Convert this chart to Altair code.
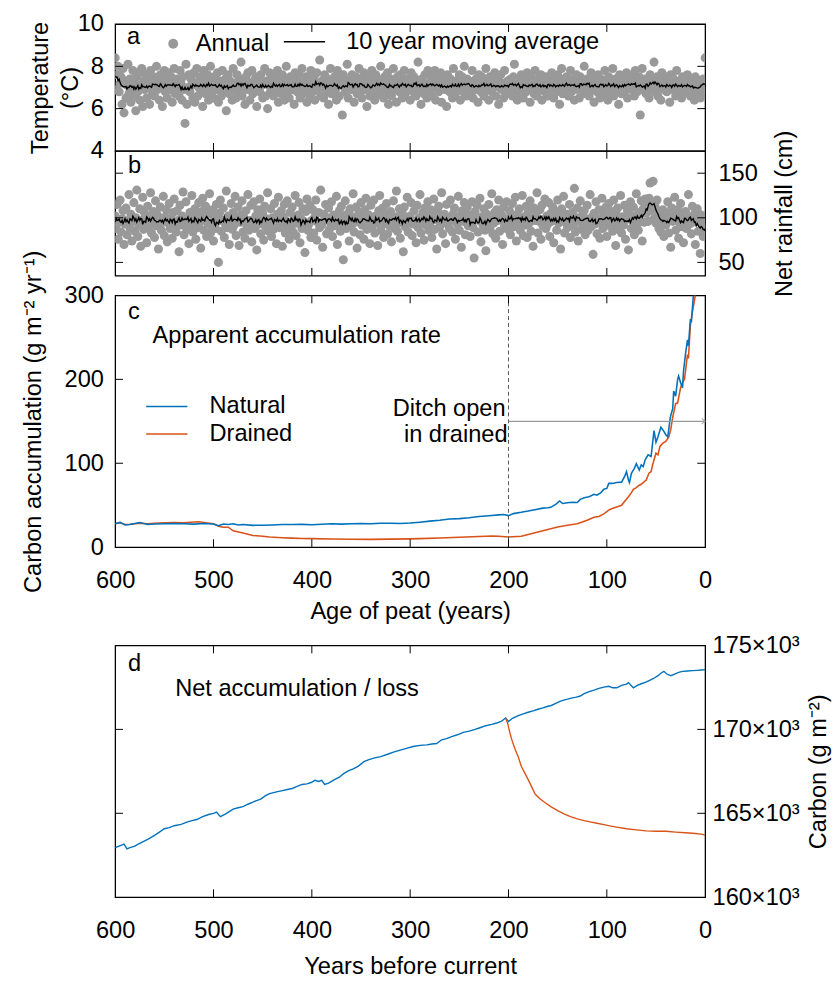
import altair as alt
import pandas as pd

FONT = "Liberation Sans"
FS = 24
GRAY = "#999999"
BLUE = "#0072BD"
ORANGE = "#D95319"
W = 600
H_A, H_B, GAP_BC, H_C, GAP_CD, H_D = 129, 127, 20, 256, 100, 256
TICK = 8

# ---------------- data ----------------
# annual temperature (deg C), age 600 -> 0
temperature = [
    8.4, 6.9, 7.6, 8.0, 6.8, 7.2, 7.5, 6.2, 7.9, 5.8, 7.3, 6.5, 7.1, 8.1, 6.7, 7.4, 6.3, 7.0, 7.8, 6.6,
    7.2, 5.9, 7.5, 6.8, 7.7, 6.4, 7.1, 7.9, 6.1, 7.3, 6.9, 7.6, 6.5, 7.0, 7.4, 6.2, 7.8, 7.1, 6.7, 7.5,
    6.6, 7.3, 8.0, 6.9, 7.2, 6.4, 7.6, 7.0, 6.1, 7.4, 7.8, 6.8, 7.1, 6.5, 7.7, 7.3, 6.9, 7.5, 6.3, 7.2,
    7.9, 6.7, 6.9, 7.4, 7.0, 6.6, 7.8, 7.2, 6.4, 7.5, 6.9, 5.3, 8.1, 6.2, 7.0, 7.6, 6.8, 7.4, 7.1, 6.5,
    7.7, 6.3, 7.2, 7.9, 6.6, 7.0, 7.5, 6.9, 7.3, 6.1, 7.8, 7.1, 6.7, 7.4, 7.6, 6.4, 7.0, 8.0, 6.8, 7.2,
    6.5, 7.5, 7.1, 6.9, 7.7, 6.3, 7.3, 7.0, 6.6, 7.8, 7.2, 6.8, 7.4, 5.9, 7.1, 7.6, 6.7, 7.3, 7.0, 6.4,
    7.9, 6.9, 7.2, 6.5, 7.6, 7.0, 6.8, 7.4, 8.2, 6.6, 7.1, 7.3, 6.2, 7.5, 6.9, 7.7, 7.0, 6.4, 7.2, 7.8,
    6.7, 7.3, 6.9, 7.5, 6.1, 7.0, 7.4, 6.8, 7.6, 7.1, 6.5, 7.2, 7.9, 6.6, 7.3, 6.0, 7.1, 7.7, 6.8, 7.4,
    7.0, 6.6, 7.5, 7.2, 6.9, 7.8, 6.3, 7.1, 7.4, 6.7, 7.6, 7.0, 6.4, 7.3, 8.0, 6.8, 7.2, 6.5, 7.5, 7.1,
    6.9, 7.4, 6.2, 7.7, 7.0, 6.8, 7.3, 7.6, 6.5, 7.1, 7.9, 6.7, 7.2, 6.9, 7.5, 6.3, 7.0, 7.4, 6.6, 7.8,
    7.1, 6.8, 7.5, 6.4, 7.2, 7.7, 6.9, 7.0, 8.3, 6.6, 7.3, 7.1, 6.5, 7.6, 7.0, 6.8, 7.4, 6.2, 7.2, 7.9,
    6.7, 7.3, 7.0, 7.5, 6.9, 6.4, 7.8, 7.1, 6.6, 7.4, 7.2, 5.7, 7.6, 7.0, 6.8, 7.3, 8.1, 6.5, 7.1, 7.4,
    6.9, 7.6, 7.2, 6.3, 7.0, 7.5, 6.7, 7.3, 7.9, 6.8, 7.1, 6.5, 7.4, 7.7, 6.9, 7.2, 6.1, 7.5, 7.0, 6.6,
    7.3, 7.8, 6.8, 7.1, 6.4, 7.6, 7.0, 7.4, 6.7, 7.2, 8.0, 6.9, 7.3, 6.5, 7.5, 7.1, 6.8, 7.7, 6.2, 7.0,
    7.4, 6.6, 7.2, 7.9, 6.9, 7.0, 6.3, 7.5, 7.3, 6.8, 7.6, 7.1, 6.5, 7.2, 7.8, 6.7, 7.4, 7.0, 6.9, 7.3,
    6.4, 7.7, 7.1, 6.8, 7.5, 7.0, 6.6, 7.3, 8.2, 6.9, 7.2, 6.2, 7.4, 7.0, 6.7, 7.6, 7.1, 6.5, 7.8, 7.2,
    6.9, 7.3, 6.6, 7.5, 7.0, 7.8, 6.4, 7.1, 7.4, 6.8, 7.2, 7.7, 6.3, 7.0, 7.5, 6.9, 7.3, 6.1, 7.6, 7.1,
    6.8, 7.4, 7.0, 6.5, 7.9, 7.2, 6.7, 7.3, 7.0, 6.9, 7.6, 6.4, 7.1, 7.5, 6.8, 8.0, 7.2, 6.6, 7.4, 7.0,
    7.3, 6.7, 7.1, 7.8, 6.5, 7.2, 6.9, 7.4, 7.0, 6.3, 7.6, 7.1, 6.8, 7.5, 7.2, 6.6, 7.3, 7.9, 6.9, 7.0,
    6.4, 7.5, 7.2, 6.8, 7.3, 7.0, 7.7, 6.6, 7.1, 7.4, 6.2, 7.0, 7.6, 6.9, 7.2, 6.5, 7.8, 7.1, 6.7, 7.3,
    7.0, 6.8, 7.4, 7.1, 6.6, 7.5, 8.1, 6.9, 7.2, 6.4, 7.3, 7.0, 6.7, 7.6, 7.2, 6.5, 7.1, 7.4, 6.8, 7.7,
    6.9, 7.2, 6.3, 7.5, 7.0, 7.3, 6.7, 7.8, 7.1, 6.6, 7.4, 6.9, 7.2, 7.6, 6.4, 7.0, 7.3, 6.8, 7.5, 7.1,
    6.6, 7.4, 7.0, 6.9, 7.7, 7.2, 6.5, 7.3, 7.1, 6.8, 7.6, 7.0, 6.2, 7.4, 7.9, 6.7, 7.2, 7.0, 6.9, 7.5,
    7.1, 6.6, 7.3, 7.8, 6.8, 7.0, 7.4, 6.4, 7.2, 7.6, 6.9, 7.1, 6.5, 7.5, 7.0, 7.3, 6.7, 8.0, 7.2, 6.8,
    7.4, 7.0, 6.6, 7.3, 7.7, 6.9, 7.1, 6.3, 7.5, 7.2, 6.8, 7.6, 7.0, 6.5, 7.4, 7.1, 6.9, 7.3, 7.8, 6.7,
    7.2, 6.4, 7.5, 7.0, 6.8, 7.3, 7.9, 6.6, 7.1, 7.4, 6.9, 7.2, 6.2, 7.6, 7.0, 6.7, 7.3, 7.5, 6.8, 7.1,
    7.7, 6.5, 7.2, 7.0, 7.4, 6.9, 7.6, 7.1, 6.6, 7.8, 7.3, 6.8, 7.0, 7.5, 5.7, 7.2, 7.9, 6.9, 7.1, 7.4,
    6.7, 7.0, 7.3, 6.5, 7.6, 7.2, 6.9, 7.4, 8.2, 6.8, 7.1, 7.5, 6.6, 7.3, 7.0, 6.4, 7.7, 7.1, 6.9, 7.2,
    7.5, 6.8, 7.0, 7.3, 6.3, 7.6, 7.1, 6.9, 7.4, 7.0, 6.6, 7.8, 7.2, 6.7, 7.3, 7.0, 6.5, 7.5, 7.1, 6.9,
    7.3, 6.8, 7.6, 7.0, 7.2, 6.6, 7.4, 6.9, 7.1, 6.4, 7.5, 7.0, 6.7, 7.3, 7.1, 6.5, 7.2, 6.9, 7.4, 6.6,
    8.4,
]

# annual net rainfall (cm), age 600 -> 0
rainfall = [
    102, 88, 115, 76, 95, 120, 84, 99, 108, 70, 93, 111, 81, 97, 126, 89, 104, 74, 96, 117,
    85, 100, 131, 79, 92, 110, 68, 97, 123, 87, 105, 94, 72, 113, 90, 101, 128, 83, 96, 107,
    78, 119, 91, 103, 65, 98, 112, 86, 95, 124, 80, 101, 109, 73, 94, 116, 88, 99, 77, 106,
    121, 90, 84, 108, 97, 62, 114, 92, 102, 129, 81, 95, 118, 87, 100, 71, 106, 93, 125, 84,
    98, 110, 76, 103, 89, 117, 95, 66, 107, 122, 86, 99, 113, 79, 94, 104, 127, 83, 91, 109,
    74, 101, 88, 115, 96, 50, 105, 120, 85, 97, 111, 78, 93, 130, 89, 102, 70, 98, 116, 87,
    106, 92, 124, 80, 99, 112, 69, 95, 103, 119, 84, 100, 77, 108, 91, 126, 86, 97, 114, 73,
    95, 118, 88, 102, 64, 109, 93, 121, 82, 98, 105, 75, 113, 90, 99, 128, 85, 94, 110, 79,
    100, 87, 116, 96, 71, 104, 123, 89, 97, 108, 68, 101, 115, 83, 92, 119, 95, 76, 106, 90,
    112, 84, 98, 125, 80, 94, 103, 117, 72, 99, 88, 110, 96, 61, 107, 121, 86, 93, 114, 78,
    97, 109, 83, 101, 120, 75, 95, 106, 89, 131, 92, 67, 104, 98, 115, 82, 100, 111, 87, 94,
    118, 79, 103, 91, 96, 124, 70, 99, 108, 85, 113, 93, 53, 102, 119, 88, 97, 105, 74, 110,
    90, 101, 127, 84, 95, 112, 66, 98, 106, 81, 117, 92, 100, 76, 109, 122, 87, 96, 103, 71,
    114, 89, 97, 120, 83, 102, 94, 69, 108, 125, 86, 99, 111, 78, 93, 104, 116, 82, 100, 91,
    107, 73, 96, 119, 88, 101, 130, 85, 94, 110, 77, 98, 105, 62, 112, 90, 99, 123, 84, 95,
    102, 117, 80, 93, 108, 96, 72, 114, 89, 100, 126, 83, 97, 106, 75, 111, 92, 101, 118, 86,
    94, 109, 78, 103, 121, 87, 98, 65, 107, 113, 90, 99, 128, 82, 95, 104, 71, 115, 93, 100,
    88, 120, 97, 84, 105, 111, 76, 99, 93, 124, 86, 102, 67, 108, 96, 117, 81, 100, 112, 91,
    103, 79, 95, 118, 89, 55, 107, 99, 114, 84, 97, 122, 73, 101, 92, 110, 86, 63, 104, 96,
    115, 88, 100, 127, 82, 94, 106, 77, 109, 97, 120, 85, 98, 103, 70, 112, 91, 99, 118, 87,
    95, 108, 81, 102, 116, 90, 97, 123, 74, 104, 93, 110, 86, 99, 125, 80, 101, 92, 113, 78,
    106, 94, 119, 85, 100, 68, 111, 97, 103, 128, 83, 96, 109, 76, 114, 91, 98, 121, 88, 102,
    93, 117, 79, 105, 96, 112, 72, 99, 107, 86, 120, 94, 101, 65, 110, 97, 124, 83, 95, 104,
    89, 102, 115, 78, 98, 106, 91, 133, 84, 100, 111, 74, 96, 119, 87, 103, 92, 108, 81, 99,
    114, 86, 97, 126, 90, 101, 59, 105, 93, 118, 82, 99, 109, 77, 95, 122, 88, 104, 96, 112,
    79, 100, 116, 91, 98, 107, 85, 120, 94, 69, 103, 111, 87, 97, 125, 83, 101, 92, 114, 76,
    99, 108, 64, 104, 118, 88, 96, 112, 81, 102, 127, 93, 86, 106, 97, 119, 74, 110, 95, 121,
    105, 118, 96, 122, 139, 108, 116, 141, 99, 113, 94, 120, 106, 88, 101, 84, 97, 109, 79, 98,
    92, 105, 118, 83, 99, 67, 111, 96, 102, 123, 86, 100, 109, 77, 94, 116, 90, 104, 72, 97,
    107, 88, 101, 126, 93, 99, 82, 113, 95, 104, 70, 98, 110, 85, 96, 60, 103, 91, 79, 94,
    86,
]

# apparent carbon accumulation rate (g m-2 yr-1)
acc_nat_age = [600, 595, 590, 585, 575, 567, 560, 550, 540, 530, 520, 510, 500, 495, 490, 485, 480, 475, 470, 460,
               450, 440, 430, 420, 410, 400, 390, 380, 370, 360, 350, 340, 330, 320, 310, 300, 290, 280, 270, 260,
               250, 240, 230, 220, 210, 205, 200, 195, 187, 180, 172, 165, 160, 157, 152, 148, 145, 140, 135, 130,
               127, 123, 118, 113, 110, 106, 103, 100, 98, 94, 90, 85, 82, 80, 78, 77, 75, 72, 70, 67,
               65, 63, 61, 58, 55, 52, 50, 48, 45, 42, 40, 38, 36, 35, 33, 32, 30, 28, 27, 25,
               23, 22, 20, 18, 17, 15, 14, 12, 11]
acc_nat = [27.8, 29.5, 26.5, 27, 29.3, 27, 27.5, 28, 28.2, 28, 27.5, 28.3, 27.5, 25.5, 27.5, 27, 27.8, 26.5, 27, 26,
           26.2, 26.5, 27, 27, 27.2, 26.8, 27.3, 27.8, 27.5, 28, 28.3, 28, 28.5, 28.5, 28.2, 28.8, 29.8, 31, 32, 33.5,
           34, 35, 36.5, 37.5, 38.5, 39, 37.6, 40, 41.5, 43, 45, 46.5, 47, 47.5, 51, 55, 52, 53, 53.5, 53.3,
           57, 59, 60, 63, 62, 65, 69, 70, 76, 76, 77, 77.5, 84, 90, 80, 77, 88, 94, 99.5, 92,
           98, 96, 104, 110, 108, 139, 125, 131.5, 143, 138, 134, 131.5, 150, 157, 165, 186, 180, 200, 204, 196,
           190, 210, 230, 247, 240, 272, 268, 300, 312]
acc_dr_age = [600, 595, 590, 585, 575, 567, 560, 550, 540, 530, 520, 515, 510, 500, 495, 490, 485, 480, 470, 460,
              450, 443, 430, 420, 410, 400, 380, 360, 340, 320, 300, 290, 270, 250, 230, 217, 210, 200, 187, 180,
              170, 160, 150, 140, 130, 120, 113, 108, 103, 97, 90, 85, 83, 78, 75, 73, 70, 68, 65, 63,
              60, 57, 55, 53, 50, 48, 46, 43, 40, 37, 35, 33, 30, 28, 25, 23, 21, 18, 17, 15,
              13, 10, 9]
acc_dr = [27.8, 29, 27, 27.3, 28.5, 28, 28.5, 29, 29.3, 29, 30, 30.2, 29.5, 28, 25, 23.8, 23.8, 19.5, 17, 14,
          13, 12.2, 11.3, 10.8, 10.4, 10.2, 9.8, 9.5, 9.3, 9.6, 9.9, 10.2, 11, 11.8, 12.8, 13.4, 13, 12.2, 13, 15,
          18, 21, 24, 26, 27.8, 32, 35.7, 36.5, 39.6, 45, 48, 50, 53, 60, 65, 69, 71, 73, 75, 77,
          80, 88.5, 90, 100, 112, 110, 120, 124, 126, 131.5, 140, 155, 171, 172, 190, 196, 200, 229.5, 225, 265,
          280, 300, 315]

# carbon stock (g m-2)
st_nat_age = [600, 596, 591, 588, 585, 580, 577, 572, 566, 560, 555, 550, 545, 540, 533, 527, 522, 517, 511, 505,
              500, 497, 493, 488, 484, 480, 475, 470, 465, 460, 457, 452, 447, 443, 437, 430, 425, 420, 415, 410,
              405, 400, 397, 393, 390, 387, 383, 377, 372, 368, 363, 358, 353, 347, 342, 336, 330, 323, 317, 310,
              303, 297, 290, 283, 278, 273, 268, 263, 257, 252, 246, 240, 234, 229, 223, 217, 212, 207, 203, 200,
              196, 190, 185, 180, 175, 170, 165, 160, 157, 152, 147, 143, 140, 135, 131, 127, 123, 118, 113, 108,
              103, 98, 94, 90, 85, 80, 78, 75, 73, 69, 65, 61, 57, 52, 48, 45, 42, 39, 35, 31,
              27, 23, 18, 13, 8, 4, 0]
st_nat = [162950, 163050, 163170, 162880, 162950, 163050, 163150, 163300, 163480, 163690,
          163880, 164080, 164150, 164260, 164340, 164480, 164560, 164630, 164800, 164930,
          165000, 165070, 164800, 164950, 165100, 165250, 165330, 165400, 165540, 165660,
          165740, 165850, 166050, 166170, 166260, 166350, 166420, 166480, 166600, 166720,
          166750, 166850, 166970, 166900, 166960, 166720, 166800, 167010, 167150, 167350,
          167530, 167650, 167800, 168080, 168200, 168300, 168380, 168520, 168650, 168770,
          168880, 168980, 169050, 169080, 169130, 169160, 169380, 169450, 169590, 169680,
          169820, 169900, 170000, 170100, 170220, 170300, 170380, 170490, 170680, 170470,
          170660, 170820, 170930, 171020, 171100, 171200, 171280, 171380, 171410, 171550,
          171680, 171760, 171800, 171880, 171920, 171990, 172130, 172250, 172340, 172440,
          172520, 172570, 172480, 172480, 172620, 172700, 172790, 172600, 172480, 172620,
          172720, 172800, 172910, 173050, 173200, 173350, 173460, 173300, 173200, 173300,
          173400, 173460, 173480, 173500, 173520, 173540, 173560]
st_dr_age = [203, 201, 199, 197, 195, 193, 190, 187, 183, 180, 177, 173, 168, 163, 157, 150, 143, 137, 130, 123,
             117, 110, 103, 97, 90, 80, 70, 60, 50, 40, 30, 20, 10, 4, 0]
st_dr = [170680, 170400, 169900, 169450, 169100, 168770, 168350, 167800, 167350, 167010,
         166650, 166150, 165870, 165640, 165400, 165160, 164950, 164800, 164670, 164560,
         164490, 164410, 164330, 164250, 164180, 164080, 164010, 163950, 163930, 163930,
         163880, 163840, 163800, 163760, 163700]

x_ticks = [500, 400, 300, 200, 100]
x_labels = [600, 500, 400, 300, 200, 100, 0]

# ---------------- scales and axes ----------------
xs = alt.Scale(domain=[0, 600], reverse=True, nice=False, zero=False)
ya = alt.Scale(domain=[4, 10], nice=False, zero=False)
yb = alt.Scale(domain=[35, 175], nice=False, zero=False)
yc = alt.Scale(domain=[0, 300], nice=False, zero=False)
yd = alt.Scale(domain=[160000, 175000], nice=False, zero=False)

ax_ya = alt.Axis(values=[4, 6, 8, 10], title=["Temperature", "(°C)"],
                 labelPadding=12, titlePadding=-5, titleLineHeight=30)
ax_yb = alt.Axis(orient="right", values=[50, 100, 150], title="Net rainfall (cm)",
                 titleAngle=270, titleBaseline="top", labelPadding=13, titlePadding=16)
ax_xc = alt.Axis(values=x_labels, format="d", title="Age of peat (years)",
                 labelPadding=22, titlePadding=8, labelFlush=False)
ax_yc = alt.Axis(values=[0, 100, 200, 300], title="Carbon accumulation (g m⁻² yr⁻¹)",
                 labelPadding=12, titlePadding=19)
ax_xd = alt.Axis(values=x_labels, format="d", title="Years before current",
                 labelPadding=22, titlePadding=13, labelFlush=False)
ax_yd = alt.Axis(orient="right", values=[160000, 165000, 170000, 175000],
                 labelExpr="format(datum.value / 1000, 'd') + '×10³'",
                 title="Carbon (g m⁻²)", titleAngle=270, titleBaseline="top",
                 labelPadding=7, titlePadding=8)


def inward_ticks(h, yvals, yscale, xax, yax):
    tx = alt.Chart(pd.DataFrame({"t": x_ticks}))
    ty = alt.Chart(pd.DataFrame({"v": yvals}))
    st = dict(color="black", strokeWidth=1)
    return [
        tx.mark_rule(**st).encode(x=alt.X("t:Q", scale=xs, axis=xax), y=alt.value(0), y2=alt.value(TICK)),
        tx.mark_rule(**st).encode(x=alt.X("t:Q", scale=xs, axis=xax), y=alt.value(h), y2=alt.value(h - TICK)),
        ty.mark_rule(**st).encode(y=alt.Y("v:Q", scale=yscale, axis=yax), x=alt.value(0), x2=alt.value(TICK)),
        ty.mark_rule(**st).encode(y=alt.Y("v:Q", scale=yscale, axis=yax), x=alt.value(W), x2=alt.value(W - TICK)),
    ]


def notes(ages, vals, txts, yscale, xax, yax, align="left"):
    df = pd.DataFrame({"age": ages, "v": vals, "txt": txts})
    return alt.Chart(df).mark_text(align=align, baseline="alphabetic", font=FONT, fontSize=FS, color="black").encode(
        x=alt.X("age:Q", scale=xs, axis=xax),
        y=alt.Y("v:Q", scale=yscale, axis=yax),
        text="txt:N",
    )


def spacer(h):
    return alt.Chart(pd.DataFrame({"s": [0]})).mark_point(opacity=0).encode(
        x=alt.X("s:Q", axis=None), y=alt.Y("s:Q", axis=None)
    ).properties(width=W, height=h, view=alt.ViewBackground(stroke=None))


STROKE_SYM = "M-1,0L3,0"

# ---------------- panel a ----------------
temp_df = pd.DataFrame({"age": list(range(600, 600 - len(temperature), -1)), "temp": temperature})
base_a = alt.Chart(temp_df)
pts_a = base_a.transform_calculate(lab='"Annual"').mark_circle(size=85, opacity=1, clip=True).encode(
    x=alt.X("age:Q", scale=xs, axis=None),
    y=alt.Y("temp:Q", scale=ya, axis=ax_ya),
    fill=alt.Fill("lab:N", scale=alt.Scale(domain=["Annual"], range=[GRAY]),
                  legend=alt.Legend(orient="none", legendX=47, legendY=8, title=None, symbolType="circle",
                                    symbolSize=100, symbolStrokeWidth=0, labelOffset=11)),
)
ma_a = base_a.transform_window(
    ma="mean(temp)", frame=[-5, 4], sort=[alt.SortField("age", order="descending")]
).transform_calculate(lab2='"10 year moving average"').mark_line(strokeWidth=1.4, clip=True).encode(
    x=alt.X("age:Q", scale=xs, axis=None),
    y=alt.Y("ma:Q", scale=ya, axis=ax_ya),
    stroke=alt.Stroke("lab2:N", scale=alt.Scale(domain=["10 year moving average"], range=["black"]),
                      legend=alt.Legend(orient="none", legendX=170, legendY=6, title=None, symbolType=STROKE_SYM,
                                        symbolSize=441, symbolStrokeWidth=1.5, labelOffset=41)),
)
panel_a = alt.layer(
    pts_a, ma_a, *inward_ticks(H_A, [6, 8], ya, None, ax_ya), notes([588], [9.07], ["a"], ya, None, ax_ya)
).properties(width=W, height=H_A)

# ---------------- panel b ----------------
rain_df = pd.DataFrame({"age": list(range(600, 600 - len(rainfall), -1)), "rain": rainfall})
base_b = alt.Chart(rain_df)
pts_b = base_b.mark_circle(size=85, opacity=1, color=GRAY, clip=True).encode(
    x=alt.X("age:Q", scale=xs, axis=None),
    y=alt.Y("rain:Q", scale=yb, axis=ax_yb),
)
ma_b = base_b.transform_window(
    ma="mean(rain)", frame=[-5, 4], sort=[alt.SortField("age", order="descending")]
).mark_line(strokeWidth=1.4, color="black", clip=True).encode(
    x=alt.X("age:Q", scale=xs, axis=None),
    y=alt.Y("ma:Q", scale=yb, axis=ax_yb),
)
panel_b = alt.layer(
    pts_b, ma_b, *inward_ticks(H_B, [50, 100, 150], yb, None, ax_yb), notes([587], [150.7], ["b"], yb, None, ax_yb)
).properties(width=W, height=H_B)

# ---------------- panel c ----------------
acc_df = pd.concat([
    pd.DataFrame({"age": acc_dr_age, "rate": acc_dr, "series": "Drained"}),
    pd.DataFrame({"age": acc_nat_age, "rate": acc_nat, "series": "Natural"}),
])
lines_c = alt.Chart(acc_df).mark_line(strokeWidth=1.6, clip=True).encode(
    x=alt.X("age:Q", scale=xs, axis=ax_xc),
    y=alt.Y("rate:Q", scale=yc, axis=ax_yc),
    color=alt.Color("series:N", scale=alt.Scale(domain=["Natural", "Drained"], range=[BLUE, ORANGE]),
                    legend=alt.Legend(orient="none", legendX=30, legendY=101, title=None, symbolType=STROKE_SYM,
                                      symbolSize=441, symbolStrokeWidth=1.6, labelOffset=42, rowPadding=4)),
    detail="series:N",
)
ditch = alt.Chart(pd.DataFrame({"age": [200]})).mark_rule(color="#555555", strokeWidth=1, strokeDash=[4, 3]).encode(
    x=alt.X("age:Q", scale=xs, axis=ax_xc)
)
arrow_df = pd.DataFrame({"a1": [200], "a2": [0], "v": [150]})
arrow = alt.Chart(arrow_df).mark_rule(color="#999999", strokeWidth=1.3).encode(
    x=alt.X("a1:Q", scale=xs, axis=ax_xc), x2="a2:Q", y=alt.Y("v:Q", scale=yc, axis=ax_yc)
)
head = alt.Chart(arrow_df).mark_point(shape="M-1,-0.8L0,0L-1,0.8", size=50, filled=False, color="#999999",
                                      strokeWidth=1.2).encode(
    x=alt.X("a2:Q", scale=xs, axis=ax_xc), y=alt.Y("v:Q", scale=yc, axis=ax_yc)
)
panel_c = alt.layer(
    lines_c, ditch, arrow, head, *inward_ticks(H_C, [100, 200], yc, ax_xc, ax_yc),
    notes([587, 562], [272.5, 243], ["c", "Apparent accumulation rate"], yc, ax_xc, ax_yc),
    notes([203, 201], [155.9, 125], ["Ditch open", "in drained"], yc, ax_xc, ax_yc, align="right"),
).properties(width=W, height=H_C)

# ---------------- panel d ----------------
st_df = pd.concat([
    pd.DataFrame({"age": st_nat_age, "c": st_nat, "series": "Natural"}),
    pd.DataFrame({"age": st_dr_age, "c": st_dr, "series": "Drained"}),
])
lines_d = alt.Chart(st_df).mark_line(strokeWidth=1.4, clip=True).encode(
    x=alt.X("age:Q", scale=xs, axis=ax_xd),
    y=alt.Y("c:Q", scale=yd, axis=ax_yd),
    color=alt.Color("series:N", scale=alt.Scale(domain=["Natural", "Drained"], range=[BLUE, ORANGE]), legend=None),
    detail="series:N",
)
panel_d = alt.layer(
    lines_d, *inward_ticks(H_D, [165000, 170000], yd, ax_xd, ax_yd),
    notes([587, 539], [173460, 171994], ["d", "Net accumulation / loss"], yd, ax_xd, ax_yd),
).properties(width=W, height=H_D)

# ---------------- assemble ----------------
chart = alt.vconcat(
    panel_a, panel_b, spacer(GAP_BC), panel_c, spacer(GAP_CD), panel_d, spacing=0, bounds="flush"
).resolve_scale(
    x="independent", y="independent", color="independent", fill="independent", stroke="independent"
).properties(
    padding={"left": 13, "top": -5, "right": 0, "bottom": 0}
).configure(
    font=FONT
).configure_view(
    stroke="black", strokeWidth=1.3
).configure_axis(
    grid=False, ticks=False, domain=False,
    labelFont=FONT, labelFontSize=FS, labelColor="black",
    titleFont=FONT, titleFontSize=FS, titleFontWeight="normal", titleColor="black",
).configure_legend(
    labelFont=FONT, labelFontSize=FS, labelColor="black", labelLimit=500, padding=0
)

chart.save("out.html", embed_options={"renderer": "svg", "actions": False})
